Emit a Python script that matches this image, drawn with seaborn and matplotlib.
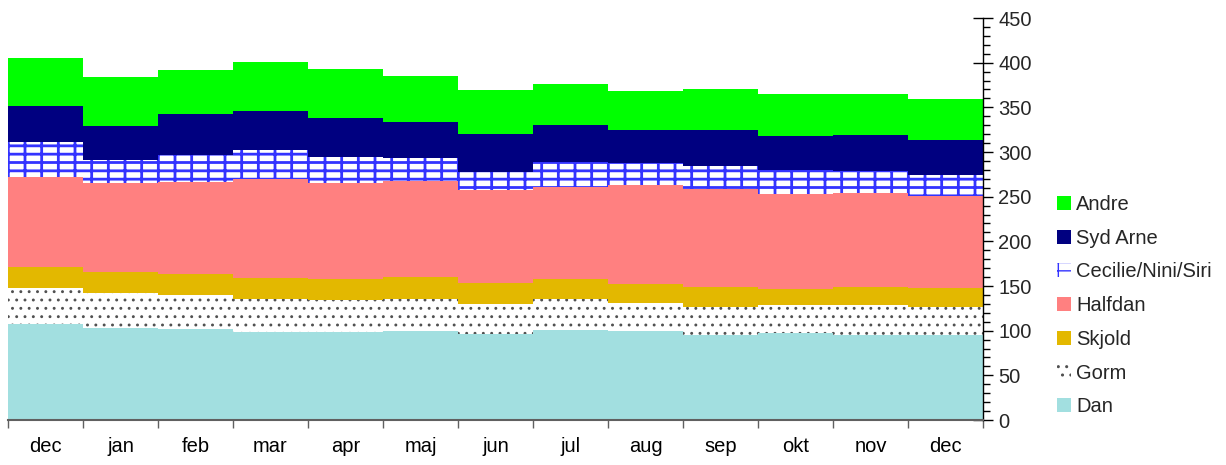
import numpy as np
import matplotlib.pyplot as plt
import matplotlib.patches as mpatches
from matplotlib.ticker import MultipleLocator
import seaborn as sns

months = ['dec', 'jan', 'feb', 'mar', 'apr', 'maj', 'jun',
          'jul', 'aug', 'sep', 'okt', 'nov', 'dec']

dan = [107.5, 103, 101.9, 98.5, 98.5, 99.6, 96.3, 100.7, 99.6, 95.2, 97.4, 95.2, 95.2]
gorm = [40.6, 39.5, 38, 37, 35.8, 35.9, 33.6, 34.8, 31.4, 31.3, 31.3, 33.5, 31.3]
skjold = [23.2, 23.2, 23.5, 23.5, 23.5, 24.5, 23.5, 22.3, 21.2, 22.4, 17.9, 20.2, 21.3]
halfdan = [100.7, 99.6, 103, 110.8, 107.5, 107.5, 104.1, 103, 110.8, 109.7, 106.4, 105.2, 103]
cecilie = [39.2, 25.7, 30.2, 32.4, 29.1, 25.8, 20.1, 28, 24.7, 25.7, 26.9, 24.6, 23.5]
syd_arne = [40.3, 38, 45.9, 43.7, 43.7, 40.3, 42.6, 41.4, 36.9, 40.3, 38, 40.3, 39.1]
andre = [53.7, 55, 49.3, 54.9, 54.8, 51.5, 49.2, 45.9, 43.7, 45.9, 47, 45.9, 45.9]

# bottom -> top, (name, values, style, hatch linewidth)
series = [
    ('Dan', dan, dict(color='#a2dfe0'), 1.0),
    ('Gorm', gorm, dict(color='white', hatch='..', edgecolor='#505050'), 0.9),
    ('Skjold', skjold, dict(color='#e3b800'), 1.0),
    ('Halfdan', halfdan, dict(color='#ff8080'), 1.0),
    ('Cecilie/Nini/Siri', cecilie, dict(color='white', hatch='--|', edgecolor='#3333ff'), 2.0),
    ('Syd Arne', syd_arne, dict(color='#000080'), 1.0),
    ('Andre', andre, dict(color='#00ff00'), 1.0),
]

sns.set_theme(style='white')
plt.rcParams['font.family'] = ['Liberation Sans', 'DejaVu Sans']

fig = plt.figure(figsize=(12.26, 4.65), dpi=100)
ax = fig.add_axes([8 / 1226, 1 - 420 / 465, 975 / 1226, 402 / 465])

idx = np.arange(len(months))
cum = np.cumsum([s[1] for s in series], axis=0)

# draw cumulative layers from the top down so each one covers the previous
for (name, vals, style, hlw), top in reversed(list(zip(series, cum))):
    with plt.rc_context({'hatch.linewidth': hlw}):
        sns.barplot(x=idx, y=top, width=1, saturation=1, errorbar=None,
                    linewidth=0, ax=ax, **style)

ax.set_xlim(-0.5, len(months) - 0.5)
ax.set_ylim(0, 450)
ax.set_xlabel('')
ax.set_ylabel('')

ax.set_xticks(np.arange(-0.5, len(months)), labels=[])
ax.set_xticks(idx, labels=months, minor=True)
ax.tick_params(axis='x', which='major', direction='out', length=6,
               width=1, color='#606060', bottom=True)
ax.tick_params(axis='x', which='minor', length=0, pad=12, labelsize=14.5,
               labelcolor='black', bottom=True)

ax.yaxis.tick_right()
ax.set_yticks(np.arange(0, 451, 50))
ax.yaxis.set_minor_locator(MultipleLocator(10))
ax.tick_params(axis='y', which='major', direction='inout', length=14,
               width=1, color='black', labelsize=14.5, pad=4, right=True)
ax.tick_params(axis='y', which='minor', direction='out', length=5,
               width=1, color='black', right=True)

for side in ['left', 'top']:
    ax.spines[side].set_visible(False)
ax.spines['right'].set_color('black')
ax.spines['right'].set_linewidth(1)
ax.spines['bottom'].set_color('#606060')
ax.spines['bottom'].set_linewidth(1.5)

handles = []
for name, vals, style, hlw in reversed(series):
    with plt.rc_context({'hatch.linewidth': hlw}):
        handles.append(mpatches.Patch(facecolor=style['color'], hatch=style.get('hatch'),
                                      edgecolor=style.get('edgecolor', 'none'),
                                      linewidth=0, label=name))
fig.legend(handles=handles, loc='upper left', bbox_to_anchor=(1057 / 1226, 1 - 195 / 465),
           frameon=False, fontsize=14.5, handlelength=0.7, handleheight=0.7,
           handletextpad=0.25, labelspacing=0.73, borderpad=0, borderaxespad=0)

plt.savefig('out.png', dpi=100)
